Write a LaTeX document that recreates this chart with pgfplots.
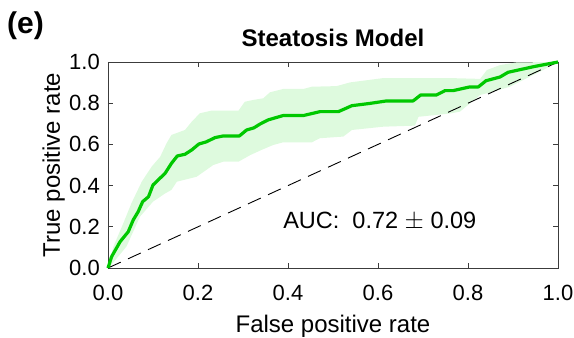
\documentclass[border=0pt]{standalone}
\usepackage{fontspec}
\setmainfont{Liberation Sans}
\usepackage{pgfplots}
\pgfplotsset{compat=1.18}
\definecolor{roc}{RGB}{0,200,0}
\definecolor{band}{RGB}{222,250,222}
\definecolor{axgray}{RGB}{60,60,60}
\begin{document}
\begin{tikzpicture}
\useasboundingbox (-108bp,-70bp) rectangle (466bp,268bp);
\begin{axis}[
  scale only axis, width=450bp, height=206bp,
  xmin=0, xmax=1, ymin=0, ymax=1,
  clip=false,
  xtick={0,0.2,0.4,0.6,0.8,1}, ytick={0,0.2,0.4,0.6,0.8,1},
  /pgf/number format/fixed,
  /pgf/number format/fixed zerofill,
  /pgf/number format/precision=1,
  /pgf/number format/assume math mode=true,
  tick align=inside, major tick length=5bp,
  axis line style={axgray, line width=0.9bp},
  every tick/.style={axgray, line width=0.9bp},
  tick label style={font=\fontsize{22bp}{26bp}\selectfont},
  xticklabel style={anchor=base, yshift=-32bp},
  yticklabel style={anchor=east, inner sep=0pt, xshift=-8bp},
  xlabel={False positive rate},
  ylabel={True positive rate},
  label style={font=\fontsize{24bp}{28bp}\selectfont},
  xlabel style={at={(axis description cs:0.5,0)}, anchor=base, yshift=-64bp},
  ylabel style={at={(axis description cs:-0.1067,0.5)}, anchor=base},
  title={Steatosis Model},
  title style={font=\fontsize{24bp}{28bp}\selectfont\bfseries, at={(axis description cs:0.5,1)}, anchor=base, yshift=10bp},
]
\addplot[fill=band, draw=none] coordinates {
(0,0) (0.012,0.104) (0.034,0.217) (0.052,0.314) (0.075,0.419) (0.097,0.492)
(0.116,0.54) (0.13,0.605) (0.141,0.646) (0.171,0.67) (0.186,0.71) (0.204,0.751)
(0.23,0.764) (0.29,0.764) (0.304,0.807) (0.323,0.816) (0.345,0.824) (0.36,0.853)
(0.389,0.869) (0.434,0.869) (0.453,0.88) (0.508,0.883) (0.538,0.901) (0.612,0.922)
(0.76,0.922) (0.827,0.918) (0.842,0.961) (0.871,0.985) (0.908,0.998) (1,1)
(0.96,0.953) (0.93,0.921) (0.893,0.88) (0.856,0.856) (0.827,0.84) (0.782,0.759)
(0.76,0.75) (0.69,0.734) (0.682,0.691) (0.612,0.686) (0.542,0.67) (0.523,0.638)
(0.471,0.63) (0.453,0.61) (0.389,0.61) (0.367,0.597) (0.341,0.573) (0.316,0.548)
(0.29,0.516) (0.256,0.516) (0.234,0.5) (0.197,0.443) (0.153,0.419) (0.141,0.379)
(0.127,0.362) (0.1,0.322) (0.071,0.249) (0.041,0.104) (0.004,0.006) (0,0)
};
\addplot[black, line width=0.9bp, dash pattern=on 14bp off 8bp] coordinates {(0,0) (1,1)};
\addplot[roc, line width=3.2bp, line join=round] coordinates {
(0,0) (0.008,0.055) (0.027,0.128) (0.045,0.176) (0.056,0.233) (0.067,0.273)
(0.077,0.322) (0.09,0.346) (0.1,0.403) (0.127,0.46) (0.141,0.508) (0.154,0.544)
(0.171,0.552) (0.186,0.573) (0.202,0.602) (0.218,0.612) (0.238,0.633) (0.256,0.641)
(0.292,0.641) (0.308,0.67) (0.324,0.68) (0.338,0.699) (0.356,0.719) (0.389,0.74)
(0.434,0.74) (0.471,0.759) (0.512,0.759) (0.542,0.788) (0.582,0.799) (0.619,0.811)
(0.678,0.811) (0.695,0.84) (0.73,0.84) (0.749,0.861) (0.767,0.861) (0.804,0.879)
(0.823,0.879) (0.84,0.909) (0.871,0.927) (0.889,0.95) (0.945,0.977) (1,1)
};
\node[anchor=base west, inner sep=0pt, font=\fontsize{23.5bp}{28bp}\selectfont] at (axis cs:0.389,0.194) {AUC:\ \ 0.72 $\pm$ 0.09};
\node[anchor=base west, inner sep=0pt, font=\fontsize{30bp}{34bp}\selectfont\bfseries] at (rel axis cs:0,1) [xshift=-101bp, yshift=28bp] {(e)};
\end{axis}
\end{tikzpicture}
\end{document}
